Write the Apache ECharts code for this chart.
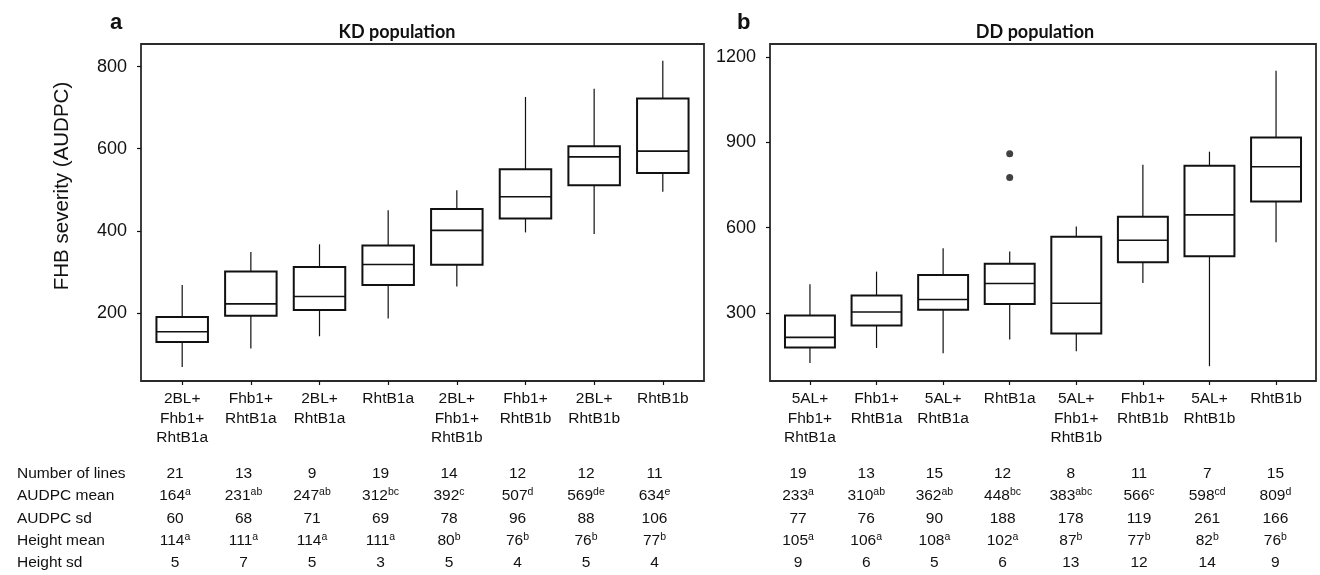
<!DOCTYPE html>
<html>
<head>
<meta charset="utf-8">
<script src="https://cdn.jsdelivr.net/npm/echarts@6/dist/echarts.min.js"></script>
<style>
html, body { margin: 0; padding: 0; background: #fff; }
#chart { width: 1320px; height: 575px; }
</style>
</head>
<body>
<div id="chart"></div>
<script>
var kdGroups = ['2BL+\nFhb1+\nRhtB1a', 'Fhb1+\nRhtB1a', '2BL+\nRhtB1a', 'RhtB1a', '2BL+\nFhb1+\nRhtB1b', 'Fhb1+\nRhtB1b', '2BL+\nRhtB1b', 'RhtB1b'];
var ddGroups = ['5AL+\nFhb1+\nRhtB1a', 'Fhb1+\nRhtB1a', '5AL+\nRhtB1a', 'RhtB1a', '5AL+\nFhb1+\nRhtB1b', 'Fhb1+\nRhtB1b', '5AL+\nRhtB1b', 'RhtB1b'];

// five numbers of every box
var kdMin = [68, 113, 143, 186, 264, 396, 392, 495];
var kdQ1 = [129, 193, 207, 268, 317, 430, 511, 541];
var kdMed = [154, 222, 240, 318, 401, 483, 580, 594];
var kdQ3 = [190, 301, 312, 364, 453, 550, 606, 722];
var kdMax = [268, 348, 367, 450, 499, 726, 746, 814];

var ddMin = [125, 178, 159, 208, 166, 406, 114, 549];
var ddQ1 = [180, 257, 312, 332, 229, 479, 500, 692];
var ddMed = [215, 304, 348, 404, 335, 556, 645, 814];
var ddQ3 = [292, 362, 434, 474, 568, 639, 818, 917];
var ddMax = [402, 446, 528, 517, 604, 821, 867, 1151];
var ddOutliers = [[4, 860], [4, 776]];

var kdTicks = [200, 400, 600, 800];
var ddTicks = [300, 600, 900, 1200];
var groupTicks = [1, 2, 3, 4, 5, 6, 7, 8];

// table under the plots
var rowNames = ['Number of lines', 'AUDPC mean', 'AUDPC sd', 'Height mean', 'Height sd'];

var kdLines = [21, 13, 9, 19, 14, 12, 12, 11];
var kdMean = [164, 231, 247, 312, 392, 507, 569, 634];
var kdMeanLetters = ['a', 'ab', 'ab', 'bc', 'c', 'd', 'de', 'e'];
var kdSd = [60, 68, 71, 69, 78, 96, 88, 106];
var kdHeight = [114, 111, 114, 111, 80, 76, 76, 77];
var kdHeightLetters = ['a', 'a', 'a', 'a', 'b', 'b', 'b', 'b'];
var kdHeightSd = [5, 7, 5, 3, 5, 4, 5, 4];

var ddLines = [19, 13, 15, 12, 8, 11, 7, 15];
var ddMean = [233, 310, 362, 448, 383, 566, 598, 809];
var ddMeanLetters = ['a', 'ab', 'ab', 'bc', 'abc', 'c', 'cd', 'd'];
var ddSd = [77, 76, 90, 188, 178, 119, 261, 166];
var ddHeight = [105, 106, 108, 102, 87, 77, 82, 76];
var ddHeightLetters = ['a', 'a', 'a', 'a', 'b', 'b', 'b', 'b'];
var ddHeightSd = [9, 6, 5, 6, 13, 12, 14, 9];

var ink = '#111';
var font = 'Liberation Sans';

function boxData(mins, q1s, meds, q3s, maxs) {
    var out = [];
    for (var i = 0; i < mins.length; i++) {
        out.push([i + 1, mins[i], q1s[i], meds[i], q3s[i], maxs[i]]);
    }
    return out;
}

// box without whisker caps, like the R figure
function renderBox(params, api) {
    var x = api.value(0);
    var pLow = api.coord([x, api.value(1)]);
    var pQ1 = api.coord([x, api.value(2)]);
    var pMed = api.coord([x, api.value(3)]);
    var pQ3 = api.coord([x, api.value(4)]);
    var pHigh = api.coord([x, api.value(5)]);
    var half = api.size([1, 0])[0] * 0.375;
    var cx = pMed[0];

    return {
        type: 'group',
        children: [
            { type: 'line', shape: { x1: cx, y1: pHigh[1], x2: cx, y2: pQ3[1] }, style: { stroke: ink, lineWidth: 1.2 } },
            { type: 'line', shape: { x1: cx, y1: pQ1[1], x2: cx, y2: pLow[1] }, style: { stroke: ink, lineWidth: 1.2 } },
            { type: 'rect', shape: { x: cx - half, y: pQ3[1], width: half * 2, height: pQ1[1] - pQ3[1] }, style: { fill: 'none', stroke: ink, lineWidth: 2 } },
            { type: 'line', shape: { x1: cx - half, y1: pMed[1], x2: cx + half, y2: pMed[1] }, style: { stroke: ink, lineWidth: 1.6 } }
        ]
    };
}

function groupAxis(idx, names) {
    return {
        gridIndex: idx,
        type: 'value',
        min: 0.4,
        max: 8.6,
        splitLine: { show: false },
        axisLine: { show: false, onZero: false },
        axisTick: { show: true, length: 4, customValues: groupTicks, lineStyle: { color: ink, width: 1.2 } },
        axisLabel: {
            customValues: groupTicks,
            formatter: function(v) { return names[v - 1]; },
            margin: 8,
            fontSize: 15.5,
            lineHeight: 19.5,
            color: ink,
            fontFamily: font
        }
    };
}

function valueAxis(idx, lo, hi, ticks) {
    return {
        gridIndex: idx,
        type: 'value',
        min: lo,
        max: hi,
        splitLine: { show: false },
        axisLine: { show: false },
        axisTick: { show: true, length: 4, customValues: ticks, lineStyle: { color: ink, width: 1.2 } },
        axisLabel: {
            customValues: ticks,
            formatter: function(v) { return String(v); },
            margin: 14, fontSize: 18, color: ink, fontFamily: font
        }
    };
}

// table text
var rich = {
    n: { fontSize: 15.5, fontFamily: font, fill: ink, lineHeight: 18 },
    s: { fontSize: 10.5, fontFamily: font, fill: ink, verticalAlign: 'top', lineHeight: 12 }
};
var rowY = [474, 496, 518.5, 541, 563];

function cellText(x, y, num, letters) {
    var txt = '{n|' + num + '}' + (letters ? '{s|' + letters + '}' : '');
    return {
        type: 'text', x: x, y: y, silent: true,
        style: { text: txt, align: 'center', verticalAlign: 'middle', rich: rich }
    };
}

function tableBlock(x0, step, rows) {
    var els = [];
    rows.forEach(function(r, ri) {
        r.vals.forEach(function(v, ci) {
            els.push(cellText(x0 + step * ci, rowY[ri], v, r.sup ? r.sup[ci] : null));
        });
    });
    return els;
}

var graphics = [];
rowNames.forEach(function(name, i) {
    graphics.push({
        type: 'text', x: 17, y: rowY[i], silent: true,
        style: { text: name, fontSize: 15.5, fontFamily: font, fill: ink, align: 'left', verticalAlign: 'middle' }
    });
});
graphics = graphics.concat(tableBlock(175, 68.5, [
    { vals: kdLines }, { vals: kdMean, sup: kdMeanLetters }, { vals: kdSd },
    { vals: kdHeight, sup: kdHeightLetters }, { vals: kdHeightSd }
]));
graphics = graphics.concat(tableBlock(798, 68.2, [
    { vals: ddLines }, { vals: ddMean, sup: ddMeanLetters }, { vals: ddSd },
    { vals: ddHeight, sup: ddHeightLetters }, { vals: ddHeightSd }
]));
graphics.push({
    type: 'text', x: 62, y: 186, rotation: Math.PI / 2, silent: true,
    style: { text: 'FHB severity (AUDPC)', fontSize: 20.5, fontFamily: font, fill: ink, align: 'center', verticalAlign: 'middle' }
});

var myChart = echarts.init(document.getElementById('chart'));

var option = {
    backgroundColor: '#fff',
    animation: false,
    title: [
        { text: 'a', left: 105, top: 7, textStyle: { fontSize: 22, fontWeight: 'bold', fontFamily: font, color: ink } },
        { text: 'b', left: 732, top: 7, textStyle: { fontSize: 22, fontWeight: 'bold', fontFamily: font, color: ink } },
        { text: 'KD population', left: 392, top: 18, textAlign: 'center', textStyle: { fontSize: 18, fontWeight: 'bold', fontFamily: 'Lato', color: ink } },
        { text: 'DD population', left: 1030, top: 18, textAlign: 'center', textStyle: { fontSize: 18, fontWeight: 'bold', fontFamily: 'Lato', color: ink } }
    ],
    grid: [
        { left: 141, top: 44, width: 563, height: 337, show: true, borderColor: '#2a2a2a', borderWidth: 1.8 },
        { left: 770, top: 44, width: 546, height: 337, show: true, borderColor: '#2a2a2a', borderWidth: 1.8 }
    ],
    xAxis: [groupAxis(0, kdGroups), groupAxis(1, ddGroups)],
    yAxis: [valueAxis(0, 34, 855, kdTicks), valueAxis(1, 62, 1245, ddTicks)],
    series: [
        {
            name: 'KD', type: 'custom', xAxisIndex: 0, yAxisIndex: 0,
            renderItem: renderBox,
            encode: { x: 0, y: [1, 2, 3, 4, 5] },
            data: boxData(kdMin, kdQ1, kdMed, kdQ3, kdMax)
        },
        {
            name: 'DD', type: 'custom', xAxisIndex: 1, yAxisIndex: 1,
            renderItem: renderBox,
            encode: { x: 0, y: [1, 2, 3, 4, 5] },
            data: boxData(ddMin, ddQ1, ddMed, ddQ3, ddMax)
        },
        {
            name: 'DD outliers', type: 'scatter', xAxisIndex: 1, yAxisIndex: 1,
            symbol: 'circle', symbolSize: 7,
            itemStyle: { color: '#111' },
            data: ddOutliers
        }
    ],
    graphic: graphics
};

myChart.setOption(option);
</script>
</body>
</html>
